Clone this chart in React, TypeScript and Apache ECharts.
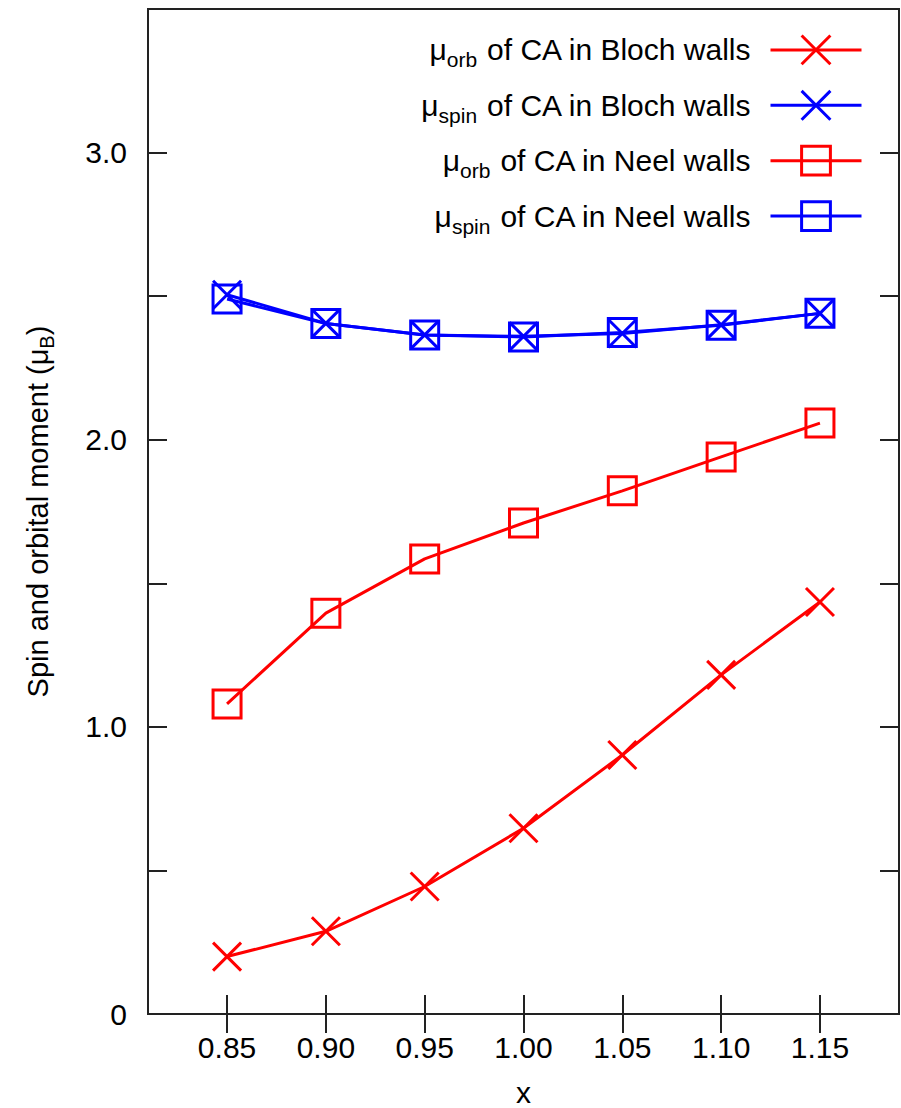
import React, { useEffect, useRef } from 'react';
import * as echarts from 'echarts';

// ---- data ----
const xValues = [0.85, 0.9, 0.95, 1.0, 1.05, 1.1, 1.15];
const orbBloch = [0.2, 0.288, 0.444, 0.647, 0.902, 1.181, 1.435];
const spinBloch = [2.505, 2.405, 2.365, 2.36, 2.37, 2.4, 2.44];
const orbNeel = [1.08, 1.396, 1.585, 1.71, 1.822, 1.94, 2.058];
const spinNeel = [2.49, 2.405, 2.365, 2.358, 2.373, 2.399, 2.44];

const xTickValues = [0.85, 0.9, 0.95, 1.0, 1.05, 1.1, 1.15];
const yLabelValues = [0, 1, 2, 3];
const yLabelTexts = ['0', '1.0', '2.0', '3.0'];

const seriesNames = [
  'μorb of CA in Bloch walls',
  'μspin of CA in Bloch walls',
  'μorb of CA in Neel walls',
  'μspin of CA in Neel walls',
];
const legendRich = [
  '{mu|μ}{sub|orb}{t| of CA in Bloch walls}',
  '{mu|μ}{sub|spin}{t| of CA in Bloch walls}',
  '{mu|μ}{sub|orb}{t| of CA in Neel walls}',
  '{mu|μ}{sub|spin}{t| of CA in Neel walls}',
];

const FONT = '"Liberation Sans", Arial, Helvetica, sans-serif';
const RED = '#ff0000';
const BLUE = '#0000ff';
const FRAME = '#222222';
const X_SYMBOL = 'path://M0,0L10,10M10,0L0,10';

function pairs(ys: number[]) {
  return xValues.map((x, i) => [x, ys[i]]);
}

export default function App() {
  const ref = useRef<HTMLDivElement>(null);

  useEffect(() => {
    if (!ref.current) return;
    const chart = echarts.init(ref.current, null, { renderer: 'svg' });

    const rich = {
      mu: { fontSize: 30, fontFamily: FONT, color: '#000' },
      t: { fontSize: 30, fontFamily: FONT, color: '#000' },
      sub: { fontSize: 21, fontFamily: FONT, color: '#000', padding: [20, 0, 0, 0] },
    };
    const richName = {
      mu: { fontSize: 29, fontFamily: FONT, color: '#000' },
      t: { fontSize: 29, fontFamily: FONT, color: '#000' },
      sub: { fontSize: 20, fontFamily: FONT, color: '#000', padding: [18, 0, 0, 0] },
    };

    const mkSeries = (name: string, ys: number[], color: string, symbol: string) => ({
      name,
      type: 'line',
      data: pairs(ys),
      symbol,
      symbolSize: 28,
      showAllSymbol: true,
      lineStyle: { color, width: 3 },
      itemStyle: { color: 'rgba(0,0,0,0)', borderColor: color, borderWidth: 3 },
      emphasis: { disabled: true },
      silent: true,
    });

    const tickStyle = { color: FRAME, width: 2 };

    chart.setOption({
      animation: false,
      backgroundColor: '#ffffff',
      grid: {
        left: 148,
        right: 2,
        top: 9,
        bottom: 94,
        show: true,
        borderColor: FRAME,
        borderWidth: 2,
        backgroundColor: 'transparent',
        containLabel: false,
        outerBoundsMode: 'none',
      },
      legend: {
        orient: 'vertical',
        right: 38,
        top: 34,
        padding: 0,
        align: 'right',
        itemWidth: 91,
        itemHeight: 36,
        itemGap: 19,
        selectedMode: false,
        data: seriesNames,
        formatter: (n: string) => legendRich[seriesNames.indexOf(n)],
        textStyle: { fontSize: 30, fontFamily: FONT, color: '#000', padding: [0, 15, 0, 0], rich },
        itemStyle: { borderWidth: 3 },
        lineStyle: { width: 3 },
      },
      xAxis: [
        {
          type: 'value',
          min: 0.81,
          max: 1.19,
          position: 'bottom',
          axisLine: { show: false },
          axisTick: { show: true, inside: true, length: 19, customValues: xTickValues, lineStyle: tickStyle },
          axisLabel: {
            customValues: xTickValues,
            formatter: (v: number) => v.toFixed(2),
            margin: 18,
            fontSize: 30,
            fontFamily: FONT,
            color: '#000',
          },
          splitLine: { show: false },
          name: 'x',
          nameLocation: 'middle',
          nameGap: 68,
          nameTextStyle: { fontSize: 30, lineHeight: 20, fontFamily: FONT, color: '#000' },
        },
        {
          type: 'value',
          min: 0.81,
          max: 1.19,
          position: 'top',
          axisLine: { show: false },
          axisTick: { show: true, inside: true, length: 19, customValues: xTickValues, lineStyle: tickStyle },
          axisLabel: { show: false },
          splitLine: { show: false },
        },
      ],
      yAxis: [
        {
          type: 'value',
          min: 0,
          max: 3.5,
          interval: 0.5,
          position: 'left',
          axisLine: { show: false },
          axisTick: { show: true, inside: true, length: 19, lineStyle: tickStyle },
          axisLabel: {
            customValues: yLabelValues,
            formatter: (v: number) => yLabelTexts[yLabelValues.indexOf(Math.round(v))] ?? '',
            margin: 21,
            fontSize: 30,
            fontFamily: FONT,
            color: '#000',
          },
          splitLine: { show: false },
          name: '{t|Spin and orbital moment (}{mu|μ}{sub|B}{t|)}',
          nameLocation: 'middle',
          nameGap: 91,
          nameRotate: 90,
          nameTextStyle: { fontSize: 29, fontFamily: FONT, color: '#000', rich: richName },
        },
        {
          type: 'value',
          min: 0,
          max: 3.5,
          interval: 0.5,
          position: 'right',
          axisLine: { show: false },
          axisTick: { show: true, inside: true, length: 19, lineStyle: tickStyle },
          axisLabel: { show: false },
          splitLine: { show: false },
        },
      ],
      series: [
        mkSeries(seriesNames[0], orbBloch, RED, X_SYMBOL),
        mkSeries(seriesNames[1], spinBloch, BLUE, X_SYMBOL),
        mkSeries(seriesNames[2], orbNeel, RED, 'rect'),
        mkSeries(seriesNames[3], spinNeel, BLUE, 'rect'),
      ],
    });

    return () => {
      chart.dispose();
    };
  }, []);

  return (
    <div
      ref={ref}
      style={{ position: 'absolute', left: 0, top: 0, width: 901, height: 1108 }}
    />
  );
}
